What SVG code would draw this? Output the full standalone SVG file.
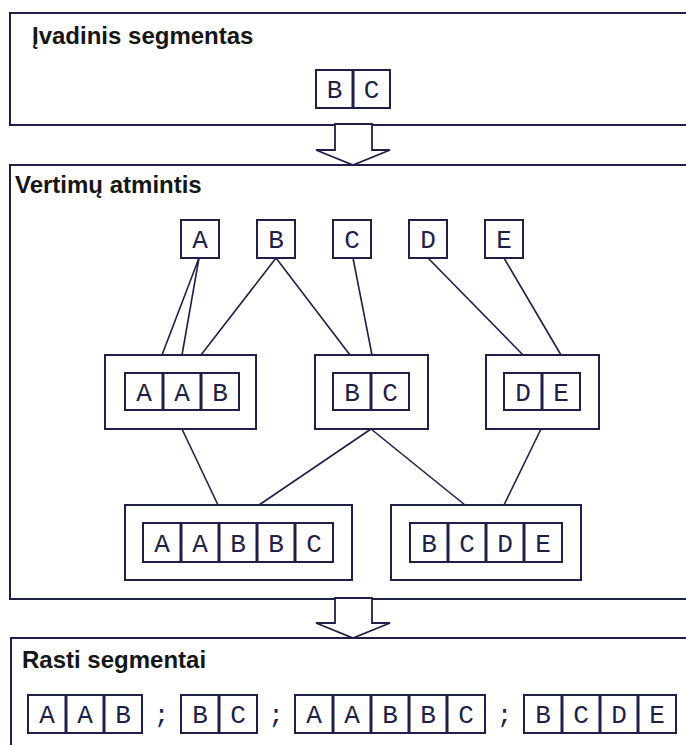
<svg xmlns="http://www.w3.org/2000/svg" width="686" height="745" viewBox="0 0 686 745">
  <style>
    .panel { fill: none; stroke: #1f1f48; stroke-width: 2; }
    .frame { fill: #ffffff; stroke: #1f1f48; stroke-width: 2; }
    .cell { fill: #ffffff; stroke: #1f1f48; stroke-width: 2; }
    .div { stroke: #1f1f48; stroke-width: 3; }
    .edge { stroke: #1f1f48; stroke-width: 1.6; fill: none; }
    .flow { fill: #ffffff; stroke: #1f1f48; stroke-width: 1.8; stroke-linejoin: miter; }
    .title { font-family: "Liberation Sans", Arial, sans-serif; font-weight: bold; font-size: 24px; fill: #161616; }
    .ch { font-family: "Liberation Mono", "Courier New", monospace; font-size: 26px; fill: #1f1f48; text-anchor: middle; }
  </style>
  <rect width="686" height="745" fill="#ffffff"/>

  <!-- input segment panel -->
  <g id="panel-input">
    <rect class="panel" x="10" y="13" width="700" height="112"/>
    <text class="title" x="32" y="44">Įvadinis segmentas</text>
    <g id="input-bc">
      <rect class="cell" x="316" y="70" width="74" height="38"/>
      <line class="div" x1="353" y1="70" x2="353" y2="108"/>
      <text class="ch" x="334.5" y="98">B</text>
      <text class="ch" x="371.5" y="98">C</text>
    </g>
  </g>

  <!-- translation memory panel -->
  <g id="panel-memory">
    <rect class="panel" x="10" y="165" width="700" height="434"/>
    <text class="title" x="15" y="193">Vertimų atmintis</text>
  </g>

  <!-- found segments panel -->
  <g id="panel-found">
    <rect class="panel" x="11" y="638" width="700" height="120"/>
    <text class="title" x="22" y="668">Rasti segmentai</text>
  </g>

  <!-- flow arrows between panels -->
  <g id="flow-arrows">
    <polygon class="flow" points="335,124 335,150 316,150 353,165 390,150 372,150 372,124"/>
    <polygon class="flow" points="335,598 335,623 316,623 353,638 390,623 372,623 372,598"/>
  </g>

  <!-- connectors -->
  <g id="connectors">
    <line class="edge" x1="199" y1="258" x2="162" y2="355"/>
    <line class="edge" x1="199" y1="258" x2="182" y2="355"/>
    <line class="edge" x1="276" y1="258" x2="201" y2="355"/>
    <line class="edge" x1="276" y1="258" x2="350" y2="355"/>
    <line class="edge" x1="353" y1="258" x2="372" y2="355"/>
    <line class="edge" x1="428" y1="258" x2="523" y2="355"/>
    <line class="edge" x1="504" y1="258" x2="561" y2="355"/>
    <line class="edge" x1="182" y1="429" x2="218" y2="505"/>
    <line class="edge" x1="371" y1="429" x2="259" y2="505"/>
    <line class="edge" x1="371" y1="429" x2="465" y2="505"/>
    <line class="edge" x1="541" y1="429" x2="504" y2="505"/>
  </g>

  <!-- single symbols -->
  <g id="sym-A"><rect class="cell" x="181" y="220" width="38" height="38"/><text class="ch" x="200" y="248">A</text></g>
  <g id="sym-B"><rect class="cell" x="257" y="220" width="38" height="38"/><text class="ch" x="276" y="248">B</text></g>
  <g id="sym-C"><rect class="cell" x="333" y="220" width="38" height="38"/><text class="ch" x="352" y="248">C</text></g>
  <g id="sym-D"><rect class="cell" x="409" y="220" width="38" height="38"/><text class="ch" x="428" y="248">D</text></g>
  <g id="sym-E"><rect class="cell" x="485" y="220" width="38" height="38"/><text class="ch" x="504" y="248">E</text></g>

  <!-- stored segments, level 2 -->
  <g id="seg-AAB">
    <rect class="frame" x="105" y="355" width="151" height="74"/>
    <rect class="cell" x="125" y="373" width="114" height="37"/>
    <line class="div" x1="163" y1="373" x2="163" y2="410"/>
    <line class="div" x1="201" y1="373" x2="201" y2="410"/>
    <text class="ch" x="144" y="401">A</text>
    <text class="ch" x="182" y="401">A</text>
    <text class="ch" x="220" y="401">B</text>
  </g>
  <g id="seg-BC">
    <rect class="frame" x="315" y="355" width="113" height="74"/>
    <rect class="cell" x="333" y="373" width="76" height="37"/>
    <line class="div" x1="371" y1="373" x2="371" y2="410"/>
    <text class="ch" x="352" y="401">B</text>
    <text class="ch" x="390" y="401">C</text>
  </g>
  <g id="seg-DE">
    <rect class="frame" x="486" y="355" width="113" height="74"/>
    <rect class="cell" x="504" y="373" width="76" height="37"/>
    <line class="div" x1="542" y1="373" x2="542" y2="410"/>
    <text class="ch" x="523" y="401">D</text>
    <text class="ch" x="561" y="401">E</text>
  </g>

  <!-- stored segments, level 3 -->
  <g id="seg-AABBC">
    <rect class="frame" x="125" y="505" width="227" height="75"/>
    <rect class="cell" x="143" y="523" width="190" height="39"/>
    <line class="div" x1="181" y1="523" x2="181" y2="562"/>
    <line class="div" x1="219" y1="523" x2="219" y2="562"/>
    <line class="div" x1="257" y1="523" x2="257" y2="562"/>
    <line class="div" x1="295" y1="523" x2="295" y2="562"/>
    <text class="ch" x="162" y="552">A</text>
    <text class="ch" x="200" y="552">A</text>
    <text class="ch" x="238" y="552">B</text>
    <text class="ch" x="276" y="552">B</text>
    <text class="ch" x="314" y="552">C</text>
  </g>
  <g id="seg-BCDE">
    <rect class="frame" x="391" y="505" width="190" height="75"/>
    <rect class="cell" x="410" y="523" width="152" height="39"/>
    <line class="div" x1="448" y1="523" x2="448" y2="562"/>
    <line class="div" x1="486" y1="523" x2="486" y2="562"/>
    <line class="div" x1="524" y1="523" x2="524" y2="562"/>
    <text class="ch" x="429" y="552">B</text>
    <text class="ch" x="467" y="552">C</text>
    <text class="ch" x="505" y="552">D</text>
    <text class="ch" x="543" y="552">E</text>
  </g>

  <!-- result list -->
  <g id="result-AAB">
    <rect class="cell" x="28" y="695" width="114" height="38"/>
    <line class="div" x1="66" y1="695" x2="66" y2="733"/>
    <line class="div" x1="104" y1="695" x2="104" y2="733"/>
    <text class="ch" x="47" y="723">A</text>
    <text class="ch" x="85" y="723">A</text>
    <text class="ch" x="123" y="723">B</text>
  </g>
  <text class="ch" x="161.5" y="723">;</text>
  <g id="result-BC">
    <rect class="cell" x="181" y="695" width="76" height="38"/>
    <line class="div" x1="219" y1="695" x2="219" y2="733"/>
    <text class="ch" x="200" y="723">B</text>
    <text class="ch" x="238" y="723">C</text>
  </g>
  <text class="ch" x="276" y="723">;</text>
  <g id="result-AABBC">
    <rect class="cell" x="295" y="695" width="190" height="38"/>
    <line class="div" x1="333" y1="695" x2="333" y2="733"/>
    <line class="div" x1="371" y1="695" x2="371" y2="733"/>
    <line class="div" x1="409" y1="695" x2="409" y2="733"/>
    <line class="div" x1="447" y1="695" x2="447" y2="733"/>
    <text class="ch" x="314" y="723">A</text>
    <text class="ch" x="352" y="723">A</text>
    <text class="ch" x="390" y="723">B</text>
    <text class="ch" x="428" y="723">B</text>
    <text class="ch" x="466" y="723">C</text>
  </g>
  <text class="ch" x="504.5" y="723">;</text>
  <g id="result-BCDE">
    <rect class="cell" x="524" y="695" width="152" height="38"/>
    <line class="div" x1="562" y1="695" x2="562" y2="733"/>
    <line class="div" x1="600" y1="695" x2="600" y2="733"/>
    <line class="div" x1="638" y1="695" x2="638" y2="733"/>
    <text class="ch" x="543" y="723">B</text>
    <text class="ch" x="581" y="723">C</text>
    <text class="ch" x="619" y="723">D</text>
    <text class="ch" x="657" y="723">E</text>
  </g>
</svg>
